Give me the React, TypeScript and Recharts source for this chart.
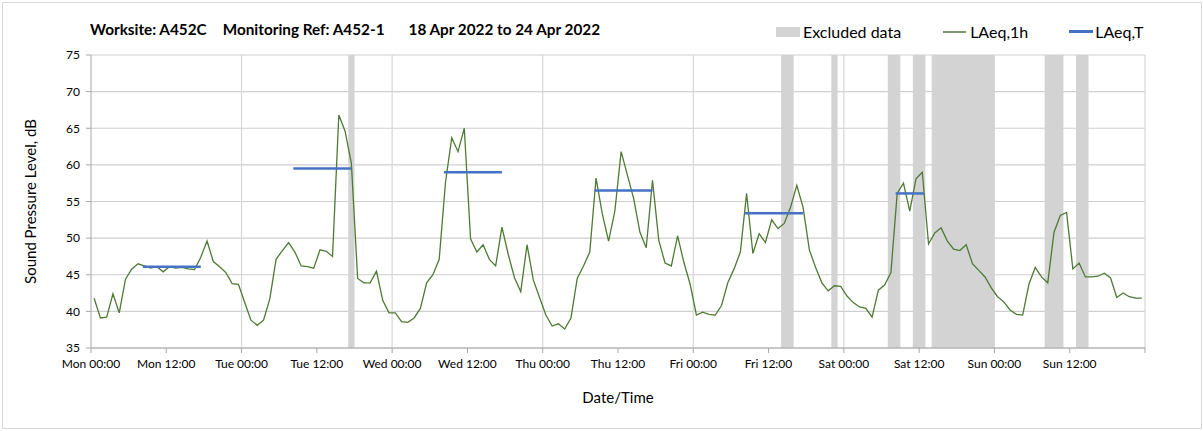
import { LineChart, Line, XAxis, YAxis, CartesianGrid, ReferenceArea, ReferenceLine } from "recharts";

// hourly LAeq,1h values, Mon 00:00 .. Sun 23:00
const laeq1h = [
  41.8, 39.1, 39.2, 42.4, 39.8, 44.4, 45.8, 46.5, 46.2, 45.9, 46.1, 45.4,
  46.1, 45.9, 46.0, 45.8, 45.7, 47.4, 49.6, 46.8, 46.1, 45.3, 43.8, 43.7,
  41.2, 38.8, 38.1, 38.8, 41.7, 47.1, 48.3, 49.4, 48.1, 46.2, 46.1, 45.9,
  48.4, 48.2, 47.5, 66.8, 64.6, 60.2, 44.5, 43.9, 43.9, 45.5, 41.5, 39.8,
  39.8, 38.6, 38.5, 39.1, 40.4, 43.9, 45.0, 47.1, 57.6, 63.7, 61.8, 65.0,
  49.9, 48.1, 49.1, 47.1, 46.2, 51.5, 47.8, 44.6, 42.7, 49.1, 44.3, 41.9,
  39.5, 38.0, 38.3, 37.6, 39.1, 44.5, 46.2, 48.1, 58.2, 53.3, 49.6, 53.7,
  61.8, 58.6, 55.4, 50.8, 48.7, 57.9, 49.7, 46.6, 46.2, 50.3, 46.7, 43.7,
  39.5, 39.9, 39.6, 39.5, 40.8, 43.9, 45.8, 48.1, 56.1, 47.9, 50.6, 49.4,
  52.5, 51.3, 52.0, 54.2, 57.2, 54.2, 48.4, 46.0, 43.9, 42.8, 43.5, 43.4,
  42.1, 41.2, 40.6, 40.4, 39.2, 42.9, 43.6, 45.3, 56.1, 57.5, 53.7, 58.1,
  59.0, 49.2, 50.7, 51.4, 49.6, 48.5, 48.3, 49.1, 46.5, 45.6, 44.7, 43.2,
  42.0, 41.3, 40.2, 39.6, 39.5, 43.7, 46.0, 44.7, 43.9, 50.8, 53.1, 53.5,
  45.8, 46.6, 44.7, 44.7, 44.8, 45.2, 44.6, 41.9, 42.5, 42.0, 41.8, 41.8,
];

// LAeq,T periods (hours from Mon 00:00)
const periodStart = [8.25, 32.25, 56.25, 80.25, 104.25, 128.25];
const periodEnd = [17.5, 41.5, 65.5, 89.5, 113.5, 132.75];
const periodValue = [46.1, 59.5, 59.0, 56.5, 53.4, 56.1];

// excluded data bands (hours from Mon 00:00)
const excludedStart = [41, 110, 118, 127, 131, 134, 152, 157];
const excludedEnd = [42, 112, 119, 129, 133, 144, 155, 159];

const xTickLabels = [
  "Mon 00:00", "Mon 12:00", "Tue 00:00", "Tue 12:00", "Wed 00:00", "Wed 12:00",
  "Thu 00:00", "Thu 12:00", "Fri 00:00", "Fri 12:00", "Sat 00:00", "Sat 12:00",
  "Sun 00:00", "Sun 12:00", "",
];
const yTicks = [35, 40, 45, 50, 55, 60, 65, 70, 75];

const titleParts = ["Worksite: A452C", "Monitoring Ref: A452-1", "18 Apr 2022 to 24 Apr 2022"];

const data = laeq1h.map((v, i) => ({ h: i + 0.5, v }));
const xTicks = xTickLabels.map((_, i) => i * 12);
const dayLines = [24, 48, 72, 96, 120, 144, 168];

const FONT = "Lato, 'Open Sans', sans-serif";
const GREEN = "#4e7a34";
const BLUE = "#4472c4";
const BAND = "#d3d3d3";

export default function App() {
  return (
    <div
      style={{
        position: "absolute",
        left: 0,
        top: 0,
        width: 1203,
        height: 431,
        background: "#fff",
        fontFamily: FONT,
      }}
    >
      <div
        style={{
          position: "absolute",
          left: 2,
          top: 2,
          width: 1198,
          height: 425,
          border: "1px solid #d9d9d9",
        }}
      />
      <div
        style={{
          position: "absolute",
          left: 90,
          top: 20,
          fontSize: 15.3,
          fontWeight: 700,
          whiteSpace: "pre",
          color: "#000",
        }}
      >
        <span style={{ marginRight: 16 }}>{titleParts[0]}</span>
        <span style={{ marginRight: 24 }}>{titleParts[1]}</span>
        <span>{titleParts[2]}</span>
      </div>
      <div
        style={{
          position: "absolute",
          left: 776,
          top: 22,
          fontSize: 16,
          display: "flex",
          alignItems: "center",
          whiteSpace: "pre",
          color: "#000",
        }}
      >
        <span style={{ display: "inline-block", width: 24, height: 10, background: BAND, marginRight: 3 }} />
        <span style={{ marginRight: 42 }}>Excluded data</span>
        <span style={{ display: "inline-block", width: 23, height: 2, background: "#7d9a6b", marginRight: 4 }} />
        <span style={{ marginRight: 41 }}>LAeq,1h</span>
        <span style={{ display: "inline-block", width: 24, height: 3, background: BLUE, marginRight: 2 }} />
        <span>LAeq,T</span>
      </div>
      <LineChart
        width={1203}
        height={431}
        data={data}
        margin={{ top: 55, right: 58, bottom: 53, left: 0 }}
        style={{ position: "absolute", left: 0, top: 0 }}
      >
        <CartesianGrid vertical={false} stroke="#cfcfcf" strokeWidth={1.2} />
        {dayLines.map((d) => (
          <ReferenceLine key={d} x={d} stroke="#d6d6d6" strokeWidth={1.2} />
        ))}
        {excludedStart.map((s, i) => (
          <ReferenceArea key={s} x1={s} x2={excludedEnd[i]} fill={BAND} fillOpacity={1} stroke="none" />
        ))}
        <XAxis
          dataKey="h"
          type="number"
          domain={[0, 168]}
          ticks={xTicks}
          tickFormatter={(t: number) => xTickLabels[t / 12]}
          interval={0}
          height={30}
          tickSize={5}
          tickMargin={6}
          stroke="#a6a6a6"
          tick={{ fontSize: 12, fill: "#000", fontFamily: FONT }}
          label={{ value: "Date/Time", position: "bottom", offset: 14, fontSize: 15, fill: "#000", fontFamily: FONT }}
        />
        <YAxis
          type="number"
          domain={[35, 75]}
          ticks={yTicks}
          width={91}
          tickSize={5}
          tickMargin={6}
          stroke="#a6a6a6"
          tick={{ fontSize: 12, fill: "#000", fontFamily: FONT }}
          label={{
            value: "Sound Pressure Level, dB",
            angle: -90,
            position: "insideLeft",
            offset: 31,
            fontSize: 15,
            fill: "#000",
            fontFamily: FONT,
            style: { textAnchor: "middle" },
          }}
        />
        <Line
          dataKey="v"
          type="linear"
          stroke={GREEN}
          strokeWidth={1.3}
          dot={false}
          isAnimationActive={false}
        />
        {periodStart.map((s, i) => (
          <Line
            key={"t" + i}
            data={[
              { h: s, t: periodValue[i] },
              { h: periodEnd[i], t: periodValue[i] },
            ]}
            dataKey="t"
            stroke={BLUE}
            strokeWidth={2.5}
            dot={false}
            isAnimationActive={false}
          />
        ))}
      </LineChart>
    </div>
  );
}
